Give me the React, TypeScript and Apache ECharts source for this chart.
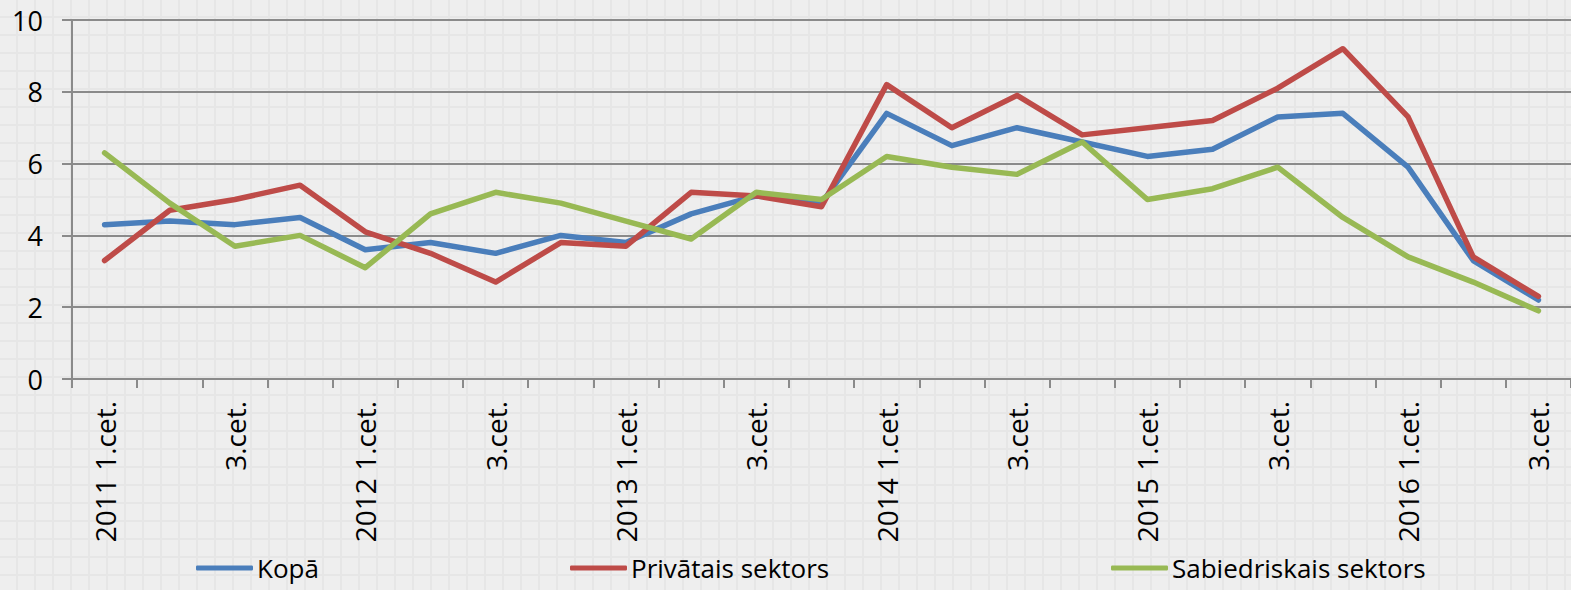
import React, { useEffect, useRef } from "react";
import * as echarts from "echarts";

const categories = [
  "2011 1.cet.", "2.cet.", "3.cet.", "4.cet.",
  "2012 1.cet.", "2.cet.", "3.cet.", "4.cet.",
  "2013 1.cet.", "2.cet.", "3.cet.", "4.cet.",
  "2014 1.cet.", "2.cet.", "3.cet.", "4.cet.",
  "2015 1.cet.", "2.cet.", "3.cet.", "4.cet.",
  "2016 1.cet.", "2.cet.", "3.cet.",
];

const kopa = [4.3, 4.4, 4.3, 4.5, 3.6, 3.8, 3.5, 4.0, 3.8, 4.6, 5.1, 4.9, 7.4, 6.5, 7.0, 6.6, 6.2, 6.4, 7.3, 7.4, 5.9, 3.3, 2.2];
const privatais = [3.3, 4.7, 5.0, 5.4, 4.1, 3.5, 2.7, 3.8, 3.7, 5.2, 5.1, 4.8, 8.2, 7.0, 7.9, 6.8, 7.0, 7.2, 8.1, 9.2, 7.3, 3.4, 2.3];
const sabiedriskais = [6.3, 4.9, 3.7, 4.0, 3.1, 4.6, 5.2, 4.9, 4.4, 3.9, 5.2, 5.0, 6.2, 5.9, 5.7, 6.6, 5.0, 5.3, 5.9, 4.5, 3.4, 2.7, 1.9];

const seriesNames = ["Kopā", "Privātais sektors", "Sabiedriskais sektors"];
const colors = ["#4a7ebb", "#be4b48", "#98b954"];

const FONT = "Open Sans";

export default function App() {
  const ref = useRef<HTMLDivElement>(null);
  useEffect(() => {
    if (!ref.current) return;
    const chart = echarts.init(ref.current, null, { renderer: "svg" });
    const legendLefts = [196, 570, 1111];
    chart.setOption({
      animation: false,
      grid: { left: 72, right: -6, top: 20, bottom: 211 },
      legend: seriesNames.map((n, i) => ({
        data: [n],
        left: legendLefts[i],
        top: 555,
        padding: 0,
        icon: "roundRect",
        itemWidth: 57,
        itemHeight: 5,
        textStyle: { fontFamily: FONT, fontSize: 26, color: "#000", padding: [0, 0, 0, -1] },
      })),
      xAxis: {
        type: "category",
        data: categories,
        boundaryGap: true,
        axisLine: { lineStyle: { color: "#8a8a8a", width: 2 } },
        axisTick: { show: true, interval: 0, length: 9, lineStyle: { color: "#8a8a8a", width: 2 } },
        axisLabel: {
          interval: 1,
          rotate: 90,
          margin: 22,
          color: "#000",
          fontFamily: FONT,
          fontSize: 28,
        },
        splitLine: { show: false },
      },
      yAxis: {
        type: "value",
        min: 0,
        max: 10,
        interval: 2,
        axisLine: { show: true, lineStyle: { color: "#8a8a8a", width: 2 } },
        axisTick: { show: true, length: 10, lineStyle: { color: "#8a8a8a", width: 2 } },
        axisLabel: { margin: 29, color: "#000", fontFamily: FONT, fontSize: 27 },
        splitLine: { show: true, lineStyle: { color: "#8a8a8a", width: 2 } },
      },
      series: [kopa, privatais, sabiedriskais].map((d, i) => ({
        name: seriesNames[i],
        type: "line",
        data: d,
        symbol: "none",
        color: colors[i],
        lineStyle: { width: 5.5, color: colors[i], cap: "round", join: "round" },
      })),
    });
    return () => chart.dispose();
  }, []);
  return (
    <div
      ref={ref}
      style={{
        position: "absolute",
        left: 0,
        top: 0,
        width: 1571,
        height: 590,
        backgroundColor: "#eeeeee",
        backgroundImage:
          "linear-gradient(to right, #e6e6e6 2px, transparent 2px), linear-gradient(to bottom, #e6e6e6 2px, transparent 2px)",
        backgroundSize: "18px 18px",
        backgroundPosition: "-2px -2px",
      }}
    />
  );
}
